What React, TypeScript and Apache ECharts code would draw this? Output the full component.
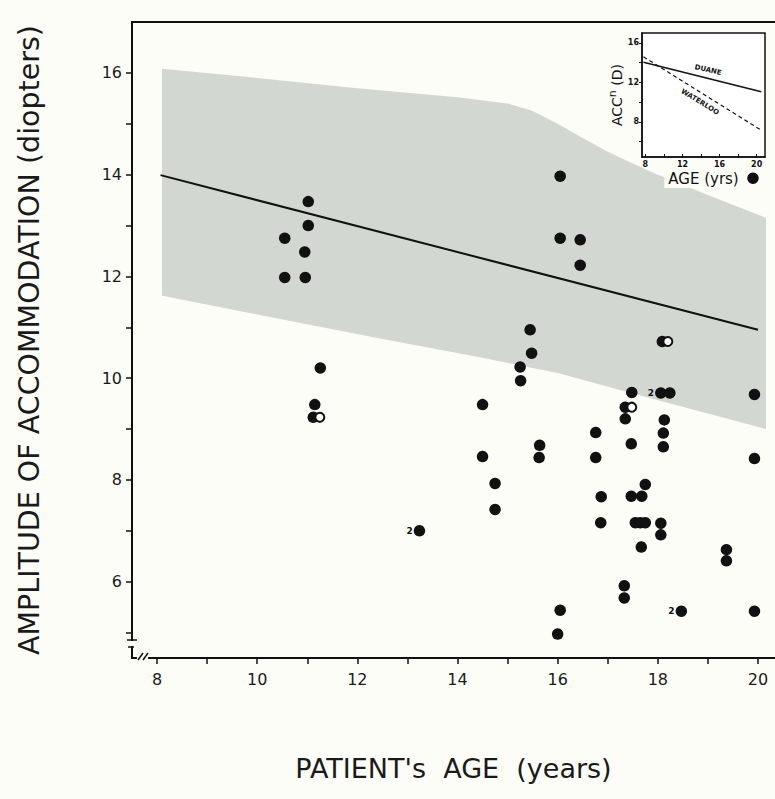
import React, { useEffect, useRef } from "react";
import * as echarts from "echarts";

// ---- axis ticks / labels ----
const xTicks = [8, 9, 10, 11, 12, 13, 14, 15, 16, 17, 18, 19, 20];
const xLabels = [8, 10, 12, 14, 16, 18, 20];
const yTicks = [5, 6, 7, 8, 9, 10, 11, 12, 13, 14, 15, 16];
const yLabels = [6, 8, 10, 12, 14, 16];

// ---- data: patients (age, amplitude in diopters) ----
const filledPoints: number[][] = [
  [10.55, 12.75], [10.55, 11.98], [11.02, 13.47], [11.02, 13.0], [10.95, 12.48],
  [10.96, 11.98], [11.26, 10.2], [11.15, 9.48], [11.12, 9.23],
  [14.5, 9.48], [14.5, 8.46], [14.75, 7.93], [14.75, 7.42],
  [15.25, 10.22], [15.26, 9.95], [15.45, 10.95], [15.48, 10.49], [15.64, 8.68], [15.63, 8.44],
  [16.05, 13.97], [16.05, 12.75], [16.45, 12.72], [16.45, 12.22],
  [16.05, 5.44], [16.0, 4.97],
  [16.76, 8.93], [16.76, 8.44], [16.87, 7.67], [16.86, 7.16],
  [17.33, 5.92], [17.33, 5.68], [17.35, 9.43], [17.35, 9.2], [17.48, 9.72], [17.47, 8.71],
  [17.47, 7.68], [17.68, 7.68], [17.75, 7.91], [17.55, 7.16], [17.65, 7.16], [17.75, 7.16],
  [17.67, 6.68], [18.06, 7.15], [18.06, 6.92], [18.09, 10.72], [18.24, 9.71],
  [18.13, 9.18], [18.11, 8.92], [18.11, 8.65],
  [19.37, 6.63], [19.37, 6.41], [19.93, 9.68], [19.93, 8.42], [19.93, 5.42], [19.9, 13.93],
];
// points counted twice (labelled "2")
const doublePoints: number[][] = [[13.24, 7.0], [18.06, 9.71], [18.47, 5.42]];
// open circles
const openPoints: number[][] = [[11.25, 9.23], [17.48, 9.43], [18.2, 10.72]];

// ---- regression (Duane) line and normal range band ----
const regressionLine: number[][] = [[8.07, 13.99], [20.0, 10.95]];
const bandUpper: number[][] = [
  [8.1, 16.08], [10, 15.9], [12, 15.7], [14, 15.52], [15, 15.4], [15.5, 15.25], [16, 15.0],
  [16.5, 14.72], [17, 14.45], [17.5, 14.22], [18, 14.0], [19, 13.6], [20.16, 13.15],
];
const bandLower: number[][] = [
  [8.1, 11.62], [10, 11.25], [12.5, 10.77], [14.5, 10.4], [16, 10.1], [17.5, 9.7], [20.16, 9.0],
];

// ---- inset ----
const insetXTicks = [8, 10, 12, 14, 16, 18, 20];
const insetXLabels = [8, 12, 16, 20];
const insetYTicks = [6, 8, 10, 12, 14, 16];
const insetYLabels = [8, 12, 16];
const insetDuane: number[][] = [[7.8, 14.05], [20.5, 11.05]];
const insetWaterloo: number[][] = [[7.8, 14.6], [20.6, 7.1]];

const BG = "#fdfdf8";
const INK = "#111111";
const FONT = "'DejaVu Sans', sans-serif";

export default function App() {
  const ref = useRef<HTMLDivElement>(null);
  useEffect(() => {
    if (!ref.current) return;
    const chart = echarts.init(ref.current, null, { renderer: "svg" });
    const option: any = {
      animation: false,
      backgroundColor: BG,
      textStyle: { fontFamily: FONT },
      grid: [
        { left: 132, right: 0, top: 22, bottom: 141, containLabel: false },
        {
          left: 642, top: 33, width: 123, height: 124, show: true,
          backgroundColor: "#ffffff", borderColor: INK, borderWidth: 1.5, z: 10,
        },
      ],
      xAxis: [
        {
          type: "value", gridIndex: 0, min: 7.5, max: 20.34,
          axisLine: { show: true, onZero: false, lineStyle: { color: INK, width: 2 } },
          axisTick: { show: true, customValues: xTicks, length: 6, lineStyle: { color: INK, width: 1.5 } },
          axisLabel: { customValues: xLabels, fontSize: 16, color: "#1a1a1a", margin: 13, fontFamily: FONT },
          splitLine: { show: false },
          name: "PATIENT's  AGE  (years)",
          nameLocation: "middle",
          nameGap: 97,
          nameTextStyle: { fontSize: 27, color: "#1a1a1a", fontFamily: FONT },
        },
        {
          type: "value", gridIndex: 0, position: "top", min: 7.5, max: 20.34,
          axisLine: { show: true, onZero: false, lineStyle: { color: INK, width: 2 } },
          axisTick: { show: false }, axisLabel: { show: false }, splitLine: { show: false },
        },
        {
          type: "value", gridIndex: 1, min: 7.64, max: 20.9, z: 20,
          axisLine: { show: true, onZero: false, lineStyle: { color: INK, width: 1.5 } },
          axisTick: { show: true, inside: true, customValues: insetXTicks, length: 3, lineStyle: { color: INK } },
          axisLabel: { customValues: insetXLabels, fontSize: 8, fontWeight: "bold", color: INK, margin: 3 },
          splitLine: { show: false },
          name: "AGE (yrs)", nameLocation: "middle", nameGap: 13,
          nameTextStyle: {
            fontSize: 15, color: INK, fontFamily: FONT,
            backgroundColor: BG, padding: [1, 4, 2, 4],
          },
        },
      ],
      yAxis: [
        {
          type: "value", gridIndex: 0, min: 4.5, max: 17,
          axisLine: { show: true, onZero: false, lineStyle: { color: INK, width: 2 } },
          axisTick: { show: true, customValues: yTicks, length: 6, lineStyle: { color: INK, width: 1.5 } },
          axisLabel: { customValues: yLabels, fontSize: 16, color: "#1a1a1a", margin: 10, fontFamily: FONT },
          splitLine: { show: false },
          name: "AMPLITUDE OF ACCOMMODATION (diopters)",
          nameLocation: "middle", nameRotate: 90, nameGap: 88,
          nameTextStyle: { fontSize: 28.5, color: "#1a1a1a", fontFamily: FONT },
        },
        {
          type: "value", gridIndex: 1, min: 4.45, max: 17.01, z: 20,
          axisLine: { show: true, onZero: false, lineStyle: { color: INK, width: 1.5 } },
          axisTick: { show: true, customValues: insetYTicks, length: 3, lineStyle: { color: INK } },
          axisLabel: { customValues: insetYLabels, fontSize: 8, fontWeight: "bold", color: INK, margin: 3 },
          splitLine: { show: false },
          name: "ACC{s|n} (D)", nameLocation: "middle", nameRotate: 90, nameGap: 14,
          nameTextStyle: {
            fontSize: 14, color: INK, fontFamily: FONT,
            rich: { s: { fontSize: 11, color: INK, fontFamily: FONT, padding: [0, 0, 8, 0] } },
          },
        },
      ],
      series: [
        {
          type: "custom", xAxisIndex: 0, yAxisIndex: 0, z: 1,
          data: [[8, 10]],
          renderItem: (params: any, api: any) => {
            const pts = bandUpper.map((p) => api.coord(p)).concat(
              bandLower.slice().reverse().map((p) => api.coord(p))
            );
            return { type: "polygon", shape: { points: pts }, style: { fill: "#d3d7d1" } };
          },
          silent: true,
        },
        {
          type: "line", xAxisIndex: 0, yAxisIndex: 0, data: regressionLine, symbol: "none", z: 3,
          lineStyle: { color: INK, width: 2 },
        },
        {
          type: "scatter", xAxisIndex: 0, yAxisIndex: 0, data: filledPoints, symbolSize: 11.5, z: 25,
          itemStyle: { color: INK, opacity: 1 },
        },
        {
          type: "scatter", xAxisIndex: 0, yAxisIndex: 0, data: doublePoints, symbolSize: 11.5, z: 25,
          itemStyle: { color: INK, opacity: 1 },
          label: { show: true, position: "left", formatter: "2", fontSize: 9, fontWeight: "bold", color: INK, distance: 1 },
        },
        {
          type: "scatter", xAxisIndex: 0, yAxisIndex: 0, data: openPoints, symbolSize: 9, z: 26,
          itemStyle: { color: "#ffffff", borderColor: INK, borderWidth: 2, opacity: 1 },
        },
        {
          type: "line", xAxisIndex: 2, yAxisIndex: 1, data: insetDuane, symbol: "none", z: 12,
          lineStyle: { color: INK, width: 1.5 },
        },
        {
          type: "line", xAxisIndex: 2, yAxisIndex: 1, data: insetWaterloo, symbol: "none", z: 12,
          lineStyle: { color: INK, width: 1.2, type: [4, 3] },
        },
      ],
      graphic: [
        // axis break marks at the lower-left corner
        { type: "rect", z: 100, shape: { x: 124, y: 641, width: 16, height: 5 }, style: { fill: BG } },
        { type: "rect", z: 100, shape: { x: 134, y: 654, width: 14, height: 8 }, style: { fill: BG } },
        { type: "line", z: 101, shape: { x1: 127, y1: 640, x2: 137, y2: 640 }, style: { stroke: INK, lineWidth: 1.5 } },
        { type: "line", z: 101, shape: { x1: 128, y1: 647, x2: 134, y2: 647 }, style: { stroke: INK, lineWidth: 1.5 } },
        { type: "line", z: 101, shape: { x1: 132, y1: 658, x2: 137, y2: 658 }, style: { stroke: INK, lineWidth: 2 } },
        { type: "line", z: 101, shape: { x1: 138, y1: 660, x2: 143, y2: 653 }, style: { stroke: INK, lineWidth: 1.5 } },
        { type: "line", z: 101, shape: { x1: 143, y1: 660, x2: 148, y2: 653 }, style: { stroke: INK, lineWidth: 1.5 } },
        // inset curve labels
        {
          type: "text", z: 120, x: 708, y: 70, rotation: -0.22,
          style: { text: "DUANE", font: `bold 7px ${FONT}`, fill: INK, textAlign: "center", textVerticalAlign: "middle" },
        },
        {
          type: "text", z: 120, x: 700, y: 102, rotation: -0.55,
          style: { text: "WATERLOO", font: `bold 7px ${FONT}`, fill: INK, textAlign: "center", textVerticalAlign: "middle" },
        },
      ],
    };
    chart.setOption(option);
    return () => chart.dispose();
  }, []);
  return (
    <div
      ref={ref}
      style={{ position: "fixed", left: 0, top: 0, width: 775, height: 799 }}
    />
  );
}
